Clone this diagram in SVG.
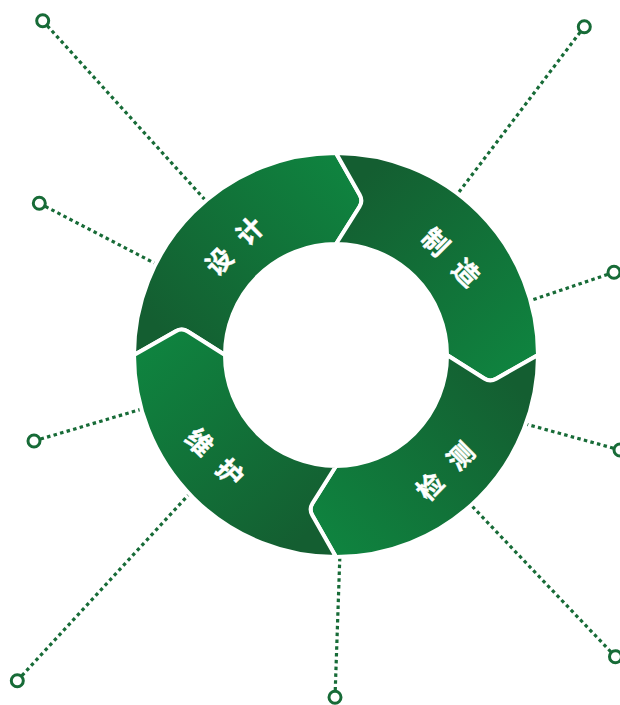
<svg xmlns="http://www.w3.org/2000/svg" width="620" height="705" viewBox="0 0 620 705">
<style>
.dot{fill:none;stroke:#176b37;stroke-width:3.2;stroke-dasharray:3.5 3.3}
.pin{fill:#ffffff;stroke:#176b37;stroke-width:3}
.seg{stroke:#ffffff;stroke-width:4;stroke-linejoin:round}
.lbl{font-family:"Noto Sans CJK SC","Noto Sans",sans-serif;font-weight:700;font-size:26px;fill:#ffffff;stroke:#ffffff;stroke-width:0.5;letter-spacing:17px;text-anchor:middle;dominant-baseline:central}
</style>
<defs>
<linearGradient id="g" gradientUnits="userSpaceOnUse" x1="165" y1="335" x2="345" y2="170">
<stop offset="0" stop-color="#145e31"/>
<stop offset="1" stop-color="#0f833f"/>
</linearGradient>
<path id="segShape" d="M 134 355 A 202 202 0 0 1 336 153 L 359.7 194.8 Q 363.2 200.9 359.5 206.8 L 336 244 A 111 111 0 0 0 225 355 L 187.8 331.5 Q 181.9 327.8 175.8 331.3 Z"/>
</defs>
<g id="connectors">
<line class="dot" x1="42.7" y1="20.7" x2="207" y2="202"/>
<line class="dot" x1="39.3" y1="203.3" x2="160" y2="266"/>
<line class="dot" x1="584.3" y1="26.7" x2="456" y2="196"/>
<line class="dot" x1="614" y1="272.3" x2="529" y2="301"/>
<line class="dot" x1="620" y1="450" x2="522" y2="423"/>
<line class="dot" x1="615.5" y1="656.7" x2="470" y2="504"/>
<line class="dot" x1="335" y1="697.3" x2="340" y2="552"/>
<line class="dot" x1="17.3" y1="680.7" x2="192" y2="491"/>
<line class="dot" x1="34" y1="441" x2="142" y2="409"/>
<circle class="pin" cx="42.7" cy="20.7" r="6"/>
<circle class="pin" cx="39.3" cy="203.3" r="6"/>
<circle class="pin" cx="584.3" cy="26.7" r="6"/>
<circle class="pin" cx="614" cy="272.3" r="6"/>
<circle class="pin" cx="620" cy="450" r="6"/>
<circle class="pin" cx="615.5" cy="656.7" r="6"/>
<circle class="pin" cx="335" cy="697.3" r="6"/>
<circle class="pin" cx="17.3" cy="680.7" r="6"/>
<circle class="pin" cx="34" cy="441" r="6"/>
</g>
<g id="node-design">
<use href="#segShape" class="seg" fill="url(#g)"/>
<text class="lbl" transform="translate(233 245) rotate(-45)" x="8.5" y="0">设计</text>
</g>
<g id="node-manufacture">
<use href="#segShape" class="seg" fill="url(#g)" transform="rotate(90 336 355)"/>
<text class="lbl" transform="translate(452 256) rotate(45)" x="8.5" y="0">制造</text>
</g>
<g id="node-inspect">
<use href="#segShape" class="seg" fill="url(#g)" transform="rotate(180 336 355)"/>
<text class="lbl" transform="translate(444 470) rotate(-45)" x="8.5" y="0">检测</text>
</g>
<g id="node-maintain">
<use href="#segShape" class="seg" fill="url(#g)" transform="rotate(270 336 355)"/>
<text class="lbl" transform="translate(216 456) rotate(45)" x="8.5" y="0">维护</text>
</g>
</svg>
